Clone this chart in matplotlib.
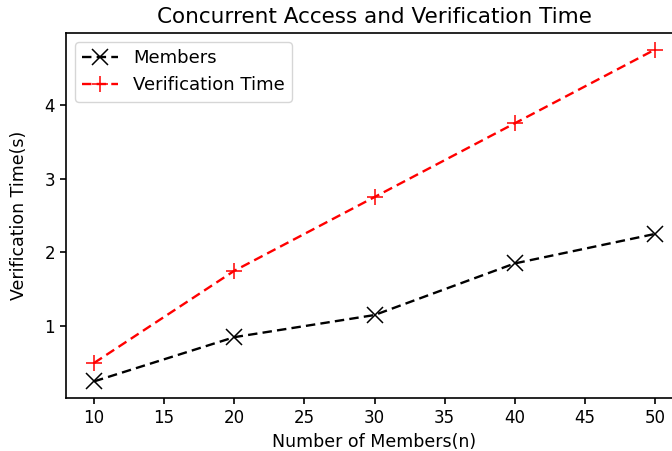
import matplotlib
matplotlib.use("Agg")
import matplotlib.pyplot as plt

# data
members_n = [10, 20, 30, 40, 50]
members = [0.25, 0.85, 1.15, 1.85, 2.25]
verify_time = [0.5, 1.75, 2.75, 3.75, 4.75]

fig = plt.figure(figsize=(6.72, 4.51), dpi=100)
# axes run past the right edge like the cropped original
ax = fig.add_axes([66 / 672, 53 / 451, 617 / 672, 365 / 451])

ax.plot(members_n, members, 'k--', marker='x', markersize=11,
        markeredgewidth=1.1, linewidth=1.7, dashes=(4, 2.2), label='Members')
ax.plot(members_n, verify_time, 'r--', marker='+', markersize=12,
        markeredgewidth=1.1, linewidth=1.7, dashes=(4, 2.2),
        label='Verification Time')

ax.set_title('Concurrent Access and Verification Time', fontsize=15.5, pad=7)
ax.set_xlabel('Number of Members(n)', fontsize=12.5)
ax.set_ylabel('Verification Time(s)', fontsize=12.5, labelpad=12)
ax.set_yticks([1, 2, 3, 4])
ax.tick_params(labelsize=12, width=1.2, length=4.5)
for s in ax.spines.values():
    s.set_linewidth(1.2)
ax.legend(loc='upper left', fontsize=13, handlelength=2.0)

fig.savefig('out.png', dpi=100)
